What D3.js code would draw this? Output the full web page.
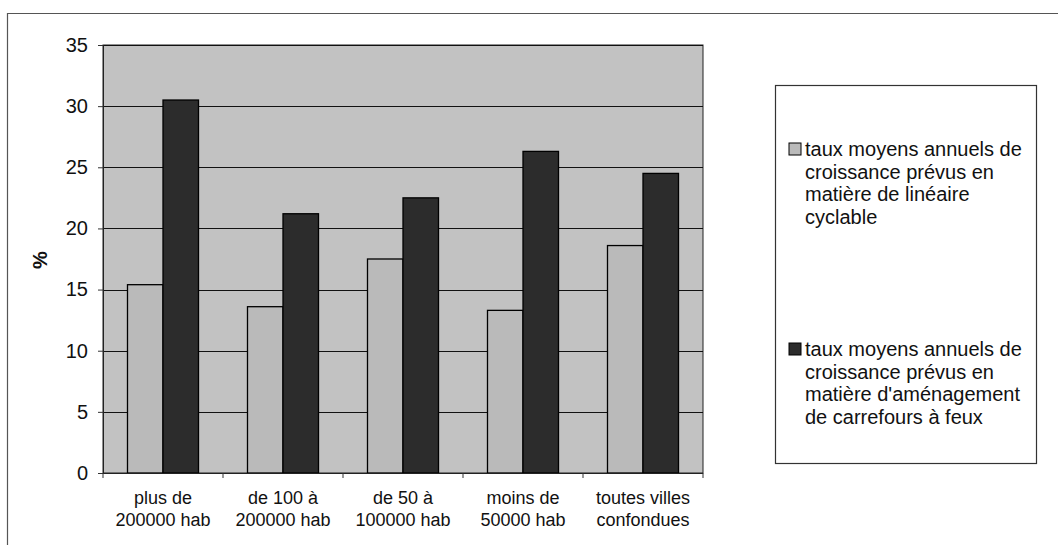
<!DOCTYPE html>
<html lang="fr">
<head>
<meta charset="utf-8">
<script src="https://cdn.jsdelivr.net/npm/d3@7"></script>
<style>
  html, body { margin: 0; padding: 0; background: #fff; }
  svg { display: block; font-family: "Liberation Sans", Arial, sans-serif; }
</style>
</head>
<body>
<svg id="chart" width="1058" height="545"></svg>
<script>
// Catégories de villes (libellés sur deux lignes)
const categories = [
  "plus de\n200000 hab",
  "de 100 à\n200000 hab",
  "de 50 à\n100000 hab",
  "moins de\n50000 hab",
  "toutes villes\nconfondues"
];

// Séries : taux moyens annuels de croissance prévus (%)
const seriesNames = [
  "taux moyens annuels de\ncroissance prévus en\nmatière de linéaire\ncyclable",
  "taux moyens annuels de\ncroissance prévus en\nmatière d'aménagement\nde carrefours à feux"
];
const lineaireCyclable = [15.4, 13.6, 17.5, 13.3, 18.6];
const carrefoursFeux   = [30.5, 21.2, 22.5, 26.3, 24.5];
const seriesValues = [lineaireCyclable, carrefoursFeux];

const yTicks = [0, 5, 10, 15, 20, 25, 30, 35];
const yLabel = "%";

const seriesFill = ["#bababa", "#2c2c2c"];

const svg = d3.select("#chart");

// Cadre extérieur (bords gauche et haut)
svg.append("path")
  .attr("d", "M7.5,545 V13.5 H1058")
  .attr("fill", "none")
  .attr("stroke", "#555")
  .attr("stroke-width", 1.2);

const plot = { left: 103, right: 703, top: 45, bottom: 473 };

const x0 = d3.scaleBand()
  .domain(d3.range(categories.length))
  .range([plot.left, plot.right])
  .padding(0);

const x1 = d3.scaleBand()
  .domain(d3.range(seriesValues.length))
  .range([0, x0.bandwidth()])
  .paddingInner(0)
  .paddingOuter(0.69);

const y = d3.scaleLinear()
  .domain([0, 35])
  .range([plot.bottom, plot.top]);

// Fond de la zone de tracé
svg.append("rect")
  .attr("x", plot.left).attr("y", plot.top)
  .attr("width", plot.right - plot.left)
  .attr("height", plot.bottom - plot.top)
  .attr("fill", "#c2c2c2")
  .attr("stroke", "#222")
  .attr("stroke-width", 1);

// Quadrillage horizontal
svg.append("g")
  .selectAll("line")
  .data(yTicks.filter(v => v > 0))
  .join("line")
  .attr("x1", plot.left).attr("x2", plot.right)
  .attr("y1", d => Math.round(y(d)) + 0.5)
  .attr("y2", d => Math.round(y(d)) + 0.5)
  .attr("stroke", "#111")
  .attr("stroke-width", 1.2);

// Barres
const groups = svg.append("g")
  .selectAll("g")
  .data(categories.map((c, i) => i))
  .join("g")
  .attr("transform", i => `translate(${x0(i)},0)`);

groups.selectAll("rect")
  .data(i => seriesValues.map((vals, s) => ({ s, v: vals[i] })))
  .join("rect")
  .attr("x", d => x1(d.s))
  .attr("y", d => y(d.v))
  .attr("width", x1.bandwidth())
  .attr("height", d => y(0) - y(d.v))
  .attr("fill", d => seriesFill[d.s])
  .attr("stroke", "#000")
  .attr("stroke-width", 1.3);

// Axe vertical
const yAxis = d3.axisLeft(y)
  .tickValues(yTicks)
  .tickSize(5)
  .tickPadding(10)
  .tickFormat(d3.format("d"));

const gy = svg.append("g")
  .attr("transform", `translate(${plot.left},0)`)
  .call(yAxis);
gy.select(".domain").attr("stroke", "#222");
gy.selectAll(".tick line").attr("stroke", "#333");
gy.selectAll(".tick text")
  .attr("font-size", 20)
  .attr("fill", "#111")
  .attr("font-family", "Liberation Sans, Arial, sans-serif");

// Axe horizontal : graduations aux limites des catégories
const boundaries = d3.range(categories.length + 1)
  .map(i => i < categories.length ? x0(i) : x0(i - 1) + x0.bandwidth());

svg.append("line")
  .attr("x1", plot.left).attr("x2", plot.right)
  .attr("y1", plot.bottom + 0.5).attr("y2", plot.bottom + 0.5)
  .attr("stroke", "#222");

svg.append("g")
  .selectAll("line")
  .data(boundaries)
  .join("line")
  .attr("x1", d => d).attr("x2", d => d)
  .attr("y1", plot.bottom).attr("y2", plot.bottom + 5)
  .attr("stroke", "#333");

// Libellés des catégories
const catLabels = svg.append("g")
  .attr("font-size", 18)
  .attr("fill", "#111")
  .attr("text-anchor", "middle");

categories.forEach((c, i) => {
  const t = catLabels.append("text")
    .attr("x", x0(i) + x0.bandwidth() / 2)
    .attr("y", 504);
  c.split("\n").forEach((line, k) => {
    t.append("tspan")
      .attr("x", x0(i) + x0.bandwidth() / 2)
      .attr("dy", k === 0 ? 0 : 22)
      .text(line);
  });
});

// Titre de l'axe vertical
svg.append("text")
  .attr("transform", "translate(47,260) rotate(-90)")
  .attr("text-anchor", "middle")
  .attr("font-size", 20)
  .attr("font-weight", "bold")
  .attr("fill", "#111")
  .text(yLabel);

// Légende
const legendBox = { x: 775, y: 85, w: 261, h: 378 };
svg.append("rect")
  .attr("x", legendBox.x + 0.5).attr("y", legendBox.y + 0.5)
  .attr("width", legendBox.w).attr("height", legendBox.h)
  .attr("fill", "#fff")
  .attr("stroke", "#333")
  .attr("stroke-width", 1.2);

const legend = svg.append("g");
seriesNames.forEach((name, s) => {
  const baseY = 156 + s * 200;
  legend.append("rect")
    .attr("x", 789).attr("y", baseY - 13)
    .attr("width", 12).attr("height", 12)
    .attr("fill", seriesFill[s])
    .attr("stroke", "#000")
    .attr("stroke-width", 1);
  const t = legend.append("text")
    .attr("x", 805)
    .attr("y", baseY)
    .attr("font-size", 20)
    .attr("fill", "#111");
  name.split("\n").forEach((line, k) => {
    t.append("tspan")
      .attr("x", 805)
      .attr("dy", k === 0 ? 0 : 22.5)
      .text(line);
  });
});
</script>
</body>
</html>
